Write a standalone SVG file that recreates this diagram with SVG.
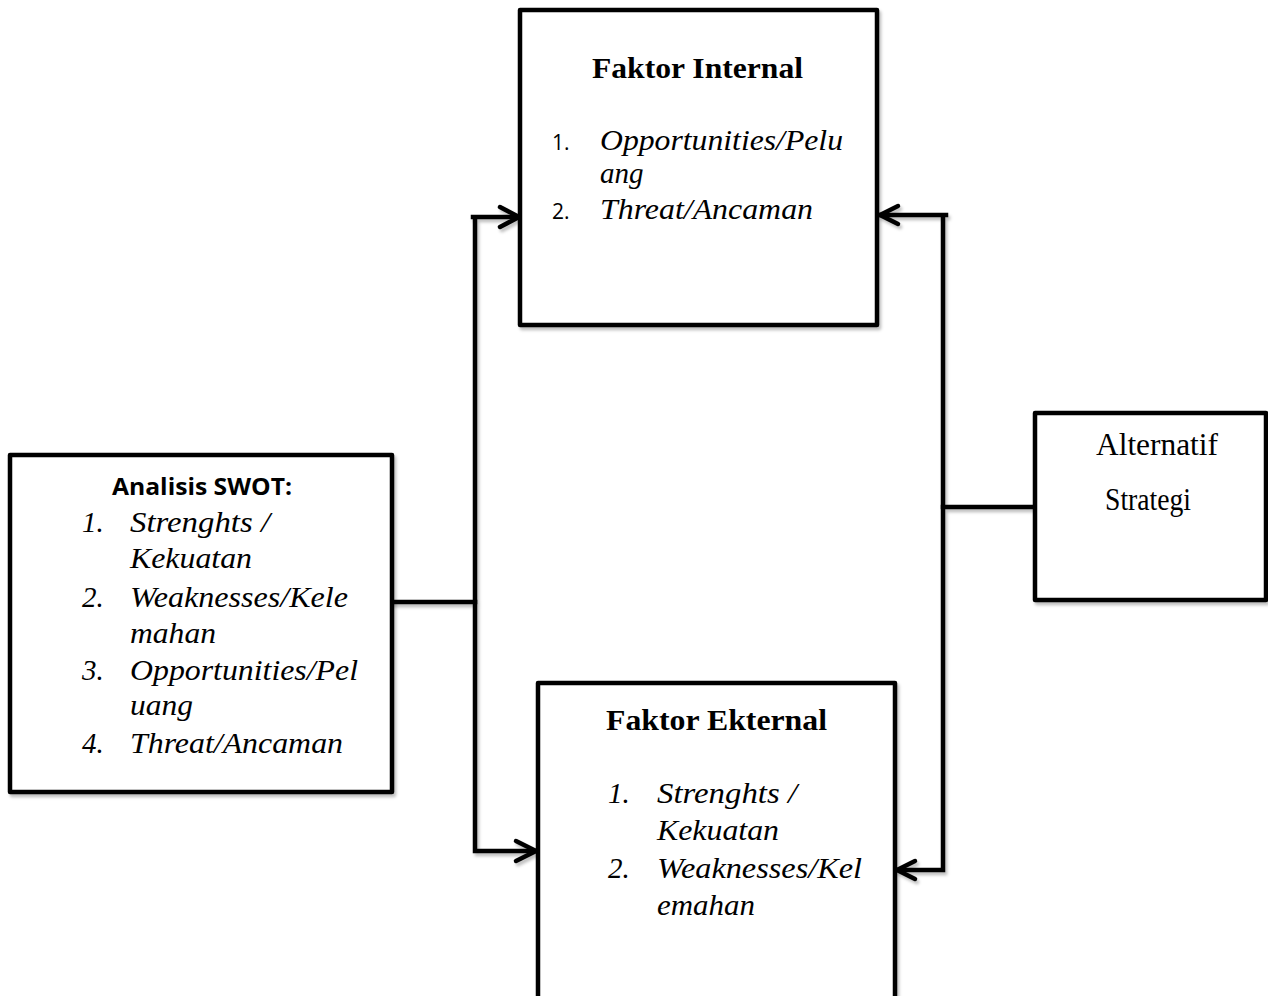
<svg xmlns="http://www.w3.org/2000/svg" width="1268" height="996" viewBox="0 0 1268 996">
<style>
.box{fill:#fff;stroke:#000;stroke-width:4.5;stroke-linejoin:round}
.ln{fill:none;stroke:#000;stroke-width:4.5;stroke-linecap:square;stroke-linejoin:miter}
.ah{fill:none;stroke:#000;stroke-width:4.5;stroke-linecap:round;stroke-linejoin:round}
.tb{font-family:'Liberation Serif','Times New Roman',Times,serif;font-weight:700;font-size:30px;fill:#000}
.ti{font-family:'Liberation Serif','Times New Roman',Times,serif;font-style:italic;font-size:29px;fill:#000}
.tr{font-family:'Liberation Serif','Times New Roman',Times,serif;font-size:31px;fill:#000}
.ts{font-family:'Open Sans','Liberation Sans',sans-serif;font-size:21px;fill:#000}
.tsb{font-family:'Open Sans','Liberation Sans',sans-serif;font-weight:700;font-size:23px;fill:#000}
</style>
<defs>
<filter id="sh" x="-5%" y="-5%" width="110%" height="110%">
<feDropShadow dx="2" dy="3" stdDeviation="1.5" flood-color="#000" flood-opacity="0.25"/>
</filter>
</defs>
<rect width="1268" height="996" fill="#fff"/>

<g id="connectors" filter="url(#sh)">
<path class="ln" d="M392,602 H475"/>
<path class="ln" d="M473,217 H518 M475,217 V851 H534"/>
<path class="ah" d="M500,207 L519,217 L500,227"/>
<path class="ah" d="M516,841 L536,851 L516,861"/>
<path class="ln" d="M946,215 H880 M943,215 V870 H898"/>
<path class="ah" d="M898,206 L880,215 L898,224"/>
<path class="ah" d="M915,861 L897,870 L915,879"/>
<path class="ln" d="M943,507 H1035"/>
</g>

<g id="faktor-internal">
<rect class="box" x="520" y="10" width="357" height="315" filter="url(#sh)"/>
<text class="tb" x="592" y="78" textLength="211" lengthAdjust="spacingAndGlyphs">Faktor Internal</text>
<text class="ts" x="552" y="150">1.</text>
<text class="ti" x="600" y="150" textLength="243" lengthAdjust="spacingAndGlyphs">Opportunities/Pelu</text>
<text class="ti" x="600" y="183">ang</text>
<text class="ts" x="552" y="219">2.</text>
<text class="ti" x="600" y="219" textLength="213" lengthAdjust="spacingAndGlyphs">Threat/Ancaman</text>
</g>

<g id="analisis-swot">
<rect class="box" x="10" y="455" width="382" height="337" filter="url(#sh)"/>
<text class="tsb" x="112" y="495" textLength="180" lengthAdjust="spacingAndGlyphs">Analisis SWOT:</text>
<text class="ti" x="82" y="532">1.</text>
<text class="ti" x="130" y="532" textLength="140" lengthAdjust="spacingAndGlyphs">Strenghts /</text>
<text class="ti" x="130" y="568" textLength="122" lengthAdjust="spacingAndGlyphs">Kekuatan</text>
<text class="ti" x="82" y="607">2.</text>
<text class="ti" x="130" y="607" textLength="218" lengthAdjust="spacingAndGlyphs">Weaknesses/Kele</text>
<text class="ti" x="130" y="643" textLength="86" lengthAdjust="spacingAndGlyphs">mahan</text>
<text class="ti" x="82" y="680">3.</text>
<text class="ti" x="130" y="680" textLength="228" lengthAdjust="spacingAndGlyphs">Opportunities/Pel</text>
<text class="ti" x="130" y="715" textLength="63" lengthAdjust="spacingAndGlyphs">uang</text>
<text class="ti" x="82" y="753">4.</text>
<text class="ti" x="130" y="753" textLength="213" lengthAdjust="spacingAndGlyphs">Threat/Ancaman</text>
</g>

<g id="faktor-ekternal">
<rect class="box" x="538" y="683" width="357" height="340" filter="url(#sh)"/>
<text class="tb" x="606" y="730" textLength="221" lengthAdjust="spacingAndGlyphs">Faktor Ekternal</text>
<text class="ti" x="608" y="803">1.</text>
<text class="ti" x="657" y="803" textLength="140" lengthAdjust="spacingAndGlyphs">Strenghts /</text>
<text class="ti" x="657" y="840" textLength="122" lengthAdjust="spacingAndGlyphs">Kekuatan</text>
<text class="ti" x="608" y="878">2.</text>
<text class="ti" x="657" y="878" textLength="205" lengthAdjust="spacingAndGlyphs">Weaknesses/Kel</text>
<text class="ti" x="657" y="915" textLength="98" lengthAdjust="spacingAndGlyphs">emahan</text>
</g>

<g id="alternatif-strategi">
<rect class="box" x="1035" y="413" width="231" height="187" filter="url(#sh)"/>
<text class="tr" x="1096" y="455" textLength="122" lengthAdjust="spacingAndGlyphs">Alternatif</text>
<text class="tr" x="1105" y="510" textLength="86" lengthAdjust="spacingAndGlyphs">Strategi</text>
</g>
</svg>
